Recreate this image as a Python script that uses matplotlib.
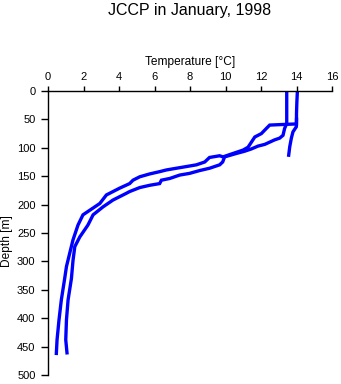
import numpy as np
import matplotlib
matplotlib.use('Agg')
import matplotlib.pyplot as plt

plt.rcParams['font.family'] = ['Liberation Sans', 'DejaVu Sans']

# cast 1: surface layer at ~14.0, jumps to the upper (colder-side) profile
temp1 = [14.05, 14.02, 14.0, 14.0, 13.2, 12.49, 12.30, 12.02, 11.65, 11.46, 11.27, 10.99,
         10.42, 9.86, 9.67, 9.10, 8.83, 8.36, 7.80, 7.23, 6.67, 6.29, 5.73, 5.17,
         4.79, 4.60, 4.04, 3.29, 2.92, 2.35, 1.97, 1.69, 1.41, 1.22, 1.04, 0.94,
         0.75, 0.62, 0.51, 0.47]
depth1 = [0, 20, 40, 58, 59, 60, 66, 75, 81, 90, 99, 104,
          110, 116, 114, 117, 125, 130, 133, 136, 139, 142, 146, 151,
          157, 163, 171, 183, 198, 210, 218, 236, 262, 286, 309, 330,
          368, 403, 438, 462]

# cast 2: surface layer at ~13.45, then the lower profile
temp2 = [13.45, 13.45, 13.45, 13.45, 13.33, 13.24, 13.05, 12.77, 12.49, 12.21, 11.83,
         11.46, 11.08, 10.61, 9.95, 9.84, 9.67, 9.10, 8.55, 7.98, 7.42, 6.86,
         6.39, 6.29, 5.73, 5.17, 4.60, 4.42, 3.66, 3.10, 2.54, 2.25, 1.79, 1.51,
         1.41, 1.32, 1.13, 1.04, 1.00, 1.07]
depth2 = [0, 20, 40, 57, 66, 78, 83, 86, 90, 94, 97,
          102, 106, 110, 116, 125, 130, 136, 140, 145, 148, 154,
          157, 163, 166, 170, 177, 180, 192, 204, 218, 236, 257, 274,
          298, 330, 368, 403, 438, 461]

# short tail below the surface layer
temp3 = [14.0, 13.99, 13.80, 13.71, 13.62, 13.56]
depth3 = [50, 63, 72, 83, 98, 113]

fig = plt.figure(figsize=(3.41, 3.84), dpi=100)
ax = fig.add_axes([48 / 341, 1 - 375 / 384, 284 / 341, 284 / 384])

for t, d in [(temp1, depth1), (temp2, depth2), (temp3, depth3)]:
    ax.plot(t, d, color='#0000ff', lw=2.4, solid_joinstyle='miter')

ax.set_xlim(0, 16)
ax.set_ylim(500, 0)
ax.set_xticks(np.arange(0, 17, 2))
ax.set_yticks(np.arange(0, 501, 50))
ax.xaxis.tick_top()
ax.xaxis.set_label_position('top')
ax.spines['right'].set_visible(False)
ax.spines['bottom'].set_visible(False)
ax.spines['left'].set_linewidth(1)
ax.spines['top'].set_linewidth(1)
ax.tick_params(axis='x', direction='out', length=3.6, width=1, labelsize=8, pad=3)
ax.tick_params(axis='y', direction='out', length=5, width=1, labelsize=8, pad=4)
ax.set_xlabel('Temperature [°C]', fontsize=8.6, labelpad=5)
ax.set_ylabel('Depth [m]', fontsize=8.6)
ax.yaxis.set_label_coords(-0.125, 0.47)

fig.text(190 / 341, 1 - 10 / 384, 'JCCP in January, 1998', ha='center', va='center', fontsize=11.5)

fig.savefig('out.png', dpi=100)
